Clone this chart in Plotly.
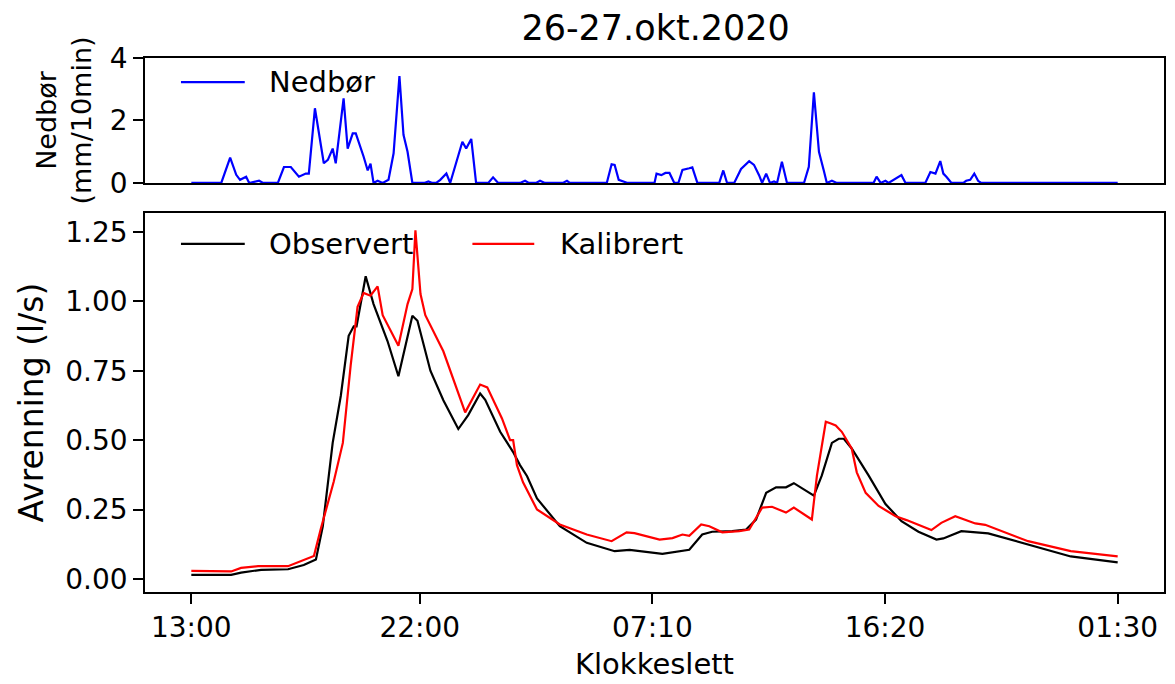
import plotly.graph_objects as go

# Time axis: hours after 13:00 on 26 Oct 2020
tick_hours = [0, 9, 18.1667, 27.3333, 36.5]
tick_labels = ["13:00", "22:00", "07:10", "16:20", "01:30"]

# Precipitation (mm per 10 min)
rain_t = [0.00, 1.18, 1.53, 1.77, 1.92, 2.16, 2.28, 2.67, 2.83, 3.41, 3.65, 3.92,
          4.24, 4.51, 4.63, 4.87, 5.22, 5.38, 5.57, 5.69, 6.00, 6.16, 6.36, 6.48,
          6.79, 6.95, 7.06, 7.18, 7.34, 7.54, 7.77, 7.97, 8.20, 8.36, 8.52, 8.71,
          9.18, 9.34, 9.50, 9.65, 9.81, 10.05, 10.20, 10.68, 10.83, 11.03, 11.22,
          11.70, 11.89, 12.09, 12.95, 13.15, 13.30, 13.58, 13.74, 13.93, 14.64,
          14.80, 14.91, 16.37, 16.56, 16.68, 16.84, 17.07, 17.19, 18.25, 18.33,
          18.52, 18.68, 18.84, 19.03, 19.19, 19.35, 19.62, 19.74, 19.94, 20.80,
          20.96, 21.11, 21.39, 21.66, 21.98, 22.17, 22.37, 22.49, 22.65, 22.80,
          22.96, 23.08, 23.27, 23.47, 24.14, 24.33, 24.53, 24.73, 24.92, 25.04,
          25.24, 25.43, 26.88, 27.00, 27.16, 27.35, 27.47, 27.79, 27.98, 28.14,
          28.92, 29.12, 29.32, 29.51, 29.63, 29.75, 29.95, 30.42, 30.53, 30.69,
          30.85, 31.00, 31.12, 36.50]
rain_mm = [0, 0, 0.81, 0.26, 0.10, 0.20, 0, 0.07, 0, 0, 0.51, 0.51,
           0.20, 0.30, 0.30, 2.39, 0.63, 0.74, 1.10, 0.63, 2.71, 1.10, 1.59, 1.59,
           0.84, 0.40, 0.62, 0, 0.07, 0, 0.10, 0.95, 3.42, 1.54, 1.00, 0,
           0, 0.05, 0, 0, 0.10, 0.30, 0, 1.32, 1.10, 1.41, 0,
           0, 0.18, 0, 0, 0.07, 0, 0, 0.07, 0, 0,
           0.07, 0, 0, 0.60, 0.58, 0.10, 0.05, 0, 0, 0.30,
           0.25, 0.32, 0.32, 0, 0, 0.42, 0.47, 0.50, 0, 0,
           0.40, 0, 0, 0.45, 0.70, 0.58, 0.25, 0, 0.30, 0,
           0.05, 0, 0.68, 0, 0, 0.52, 2.90, 1.00, 0.40, 0,
           0.07, 0, 0, 0.20, 0, 0.07, 0, 0.15, 0.25, 0,
           0, 0.35, 0.30, 0.70, 0.30, 0.20, 0, 0, 0.07, 0.10,
           0.30, 0.07, 0, 0]

# Observed runoff (l/s)
obs_t = [0.00, 1.57, 1.96, 2.75, 3.81, 4.43, 4.91, 5.18, 5.57, 5.89, 6.20, 6.40,
         6.51, 6.87, 7.18, 7.73, 8.16, 8.71, 8.91, 9.42, 9.93, 10.52, 10.91,
         11.38, 11.58, 12.17, 12.68, 12.95, 13.23, 13.62, 14.52, 15.58, 16.68,
         17.27, 18.56, 19.62, 20.13, 20.52, 21.31, 21.86, 22.25, 22.65, 23.04,
         23.43, 23.74, 24.21, 24.53, 24.84, 25.24, 25.51, 25.71, 26.02, 26.69,
         27.35, 27.98, 28.65, 29.36, 29.63, 30.34, 31.40, 32.97, 34.65, 36.50]
obs_q = [0.015, 0.015, 0.023, 0.033, 0.035, 0.050, 0.070, 0.190, 0.490, 0.660, 0.876, 0.910,
         0.910, 1.090, 0.990, 0.857, 0.730, 0.948, 0.930, 0.750, 0.644, 0.540, 0.590,
         0.668, 0.645, 0.530, 0.457, 0.410, 0.370, 0.290, 0.190, 0.130, 0.100,
         0.105, 0.090, 0.105, 0.160, 0.170, 0.172, 0.178, 0.214, 0.310, 0.330,
         0.330, 0.345, 0.317, 0.300, 0.372, 0.490, 0.505, 0.505, 0.470, 0.372,
         0.270, 0.208, 0.170, 0.142, 0.146, 0.172, 0.164, 0.124, 0.081, 0.060]

# Calibrated model runoff (l/s)
cal_t = [0.00, 1.57, 1.96, 2.63, 3.81, 4.43, 4.83, 5.10, 5.61, 5.97, 6.28, 6.55,
         6.79, 7.06, 7.34, 7.54, 8.16, 8.52, 8.71, 8.83, 9.03, 9.22, 9.93, 10.79,
         11.38, 11.66, 12.24, 12.56, 12.68, 12.83, 13.07, 13.62, 14.52, 15.58,
         16.56, 17.15, 17.46, 18.45, 18.96, 19.35, 19.62, 20.09, 20.41, 20.92,
         21.59, 21.98, 22.49, 22.88, 23.43, 23.74, 24.06, 24.45, 24.65, 25.00,
         25.20, 25.39, 25.63, 26.02, 26.22, 26.57, 27.08, 27.75, 28.18, 29.16,
         29.55, 30.10, 30.89, 31.28, 32.97, 34.65, 36.50]
cal_q = [0.029, 0.027, 0.040, 0.046, 0.046, 0.070, 0.083, 0.180, 0.350, 0.490, 0.770, 0.980,
         1.030, 1.020, 1.054, 0.950, 0.840, 0.990, 1.044, 1.256, 1.026, 0.950, 0.820, 0.600,
         0.700, 0.690, 0.578, 0.500, 0.500, 0.410, 0.348, 0.250, 0.196, 0.160,
         0.136, 0.168, 0.165, 0.142, 0.147, 0.160, 0.155, 0.196, 0.190, 0.168,
         0.172, 0.178, 0.257, 0.260, 0.239, 0.257, 0.239, 0.214, 0.372, 0.566,
         0.560, 0.553, 0.530, 0.470, 0.384, 0.310, 0.263, 0.226, 0.212, 0.176,
         0.202, 0.226, 0.200, 0.195, 0.136, 0.100, 0.081]

FONT = "DejaVu Sans"
LW = 2.2
x_range = [-1.825, 38.325]

fig = go.Figure()
fig.add_trace(go.Scatter(x=rain_t, y=rain_mm, mode="lines", name="Nedbør",
                         line=dict(color="#0000ff", width=LW),
                         xaxis="x2", yaxis="y2", showlegend=False))
fig.add_trace(go.Scatter(x=obs_t, y=obs_q, mode="lines", name="Observert",
                         line=dict(color="#000000", width=LW), showlegend=False))
fig.add_trace(go.Scatter(x=cal_t, y=cal_q, mode="lines", name="Kalibrert",
                         line=dict(color="#ff0000", width=LW), showlegend=False))

axis_common = dict(showline=True, linecolor="black", linewidth=1.5, mirror=True,
                   showgrid=False, zeroline=False, ticks="outside", ticklen=10,
                   tickwidth=1.5, tickcolor="black",
                   tickfont=dict(family=FONT, size=28, color="black"))

# Legend keys drawn as short line segments with text labels
legend_items = [
    # (x0, x1, y, text x, colour, label)
    (0.0353, 0.0979, 0.955, 0.1195, "#0000ff", "Nedbør"),
    (0.0353, 0.0979, 0.652, 0.1195, "#000000", "Observert"),
    (0.3213, 0.3820, 0.652, 0.4055, "#ff0000", "Kalibrert"),
]
shapes = []
annotations = []
for x0, x1, yy, xt, col, lab in legend_items:
    shapes.append(dict(type="line", xref="paper", yref="paper", x0=x0, x1=x1,
                       y0=yy, y1=yy, line=dict(color=col, width=LW)))
    annotations.append(dict(xref="paper", yref="paper", x=xt, y=yy, text=lab,
                            showarrow=False, xanchor="left", yanchor="middle",
                            font=dict(family=FONT, size=29, color="black")))

fig.update_layout(
    width=1175, height=684,
    margin=dict(l=145, r=9, t=58, b=92),
    paper_bgcolor="white", plot_bgcolor="white",
    font=dict(family=FONT, color="black"),
    title=dict(text="26-27.okt.2020", x=0.558, xref="container", xanchor="center",
               y=1 - 28 / 684, yref="container", yanchor="middle",
               font=dict(family=FONT, size=35, color="black")),
    xaxis=dict(domain=[0, 1], anchor="y", range=x_range,
               tickvals=tick_hours, ticktext=tick_labels,
               title=dict(text="Klokkeslett", standoff=10,
                          font=dict(family=FONT, size=29, color="black")),
               **axis_common),
    yaxis=dict(domain=[0, 0.7097], anchor="x", range=[-0.047, 1.318],
               tickvals=[0, 0.25, 0.5, 0.75, 1.0, 1.25], tickformat=".2f",
               title=dict(text="Avrenning (l/s)", standoff=12,
                          font=dict(family=FONT, size=33, color="black")),
               **axis_common),
    xaxis2=dict(domain=[0, 1], anchor="y2", matches="x", range=x_range,
                showticklabels=False, showline=True, linecolor="black",
                linewidth=1.5, mirror=True, showgrid=False, zeroline=False,
                ticks=""),
    yaxis2=dict(domain=[0.766, 1], anchor="x2", range=[0, 4],
                tickvals=[0, 2, 4],
                title=dict(text="Nedbør<br>(mm/10min)", standoff=10,
                           font=dict(family=FONT, size=27, color="black")),
                **axis_common),
    shapes=shapes,
    annotations=annotations,
)

fig.write_html("out.html")
